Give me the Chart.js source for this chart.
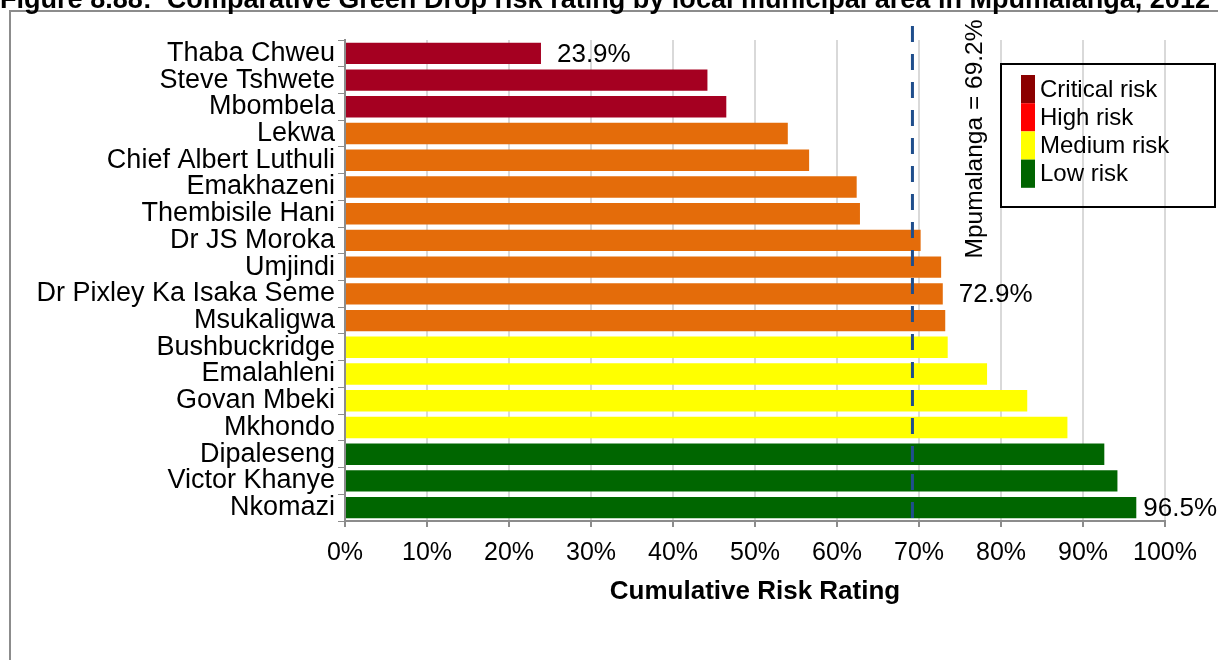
<!DOCTYPE html>
<html>
<head>
<meta charset="utf-8">
<script src="https://cdn.jsdelivr.net/npm/chart.js@4.4.0/dist/chart.umd.min.js"></script>
<style>
  html, body { margin: 0; padding: 0; background: #fff; }
  #riskChart { display: block; }
</style>
</head>
<body>
<canvas id="riskChart" width="1218" height="660"></canvas>
<script>
const municipalities = ['Thaba Chweu','Steve Tshwete','Mbombela','Lekwa','Chief Albert Luthuli','Emakhazeni',
  'Thembisile Hani','Dr JS Moroka','Umjindi','Dr Pixley Ka Isaka Seme','Msukaligwa','Bushbuckridge',
  'Emalahleni','Govan Mbeki','Mkhondo','Dipaleseng','Victor Khanye','Nkomazi'];
const riskRating = [23.9,44.2,46.5,54.0,56.6,62.4,62.8,70.2,72.7,72.9,73.2,73.5,78.3,83.2,88.1,92.6,94.2,96.5];
const riskClass = ['critical','critical','critical','high','high','high','high','high','high','high','high',
  'medium','medium','medium','medium','low','low','low'];
const labelledBars = ['Thaba Chweu','Dr Pixley Ka Isaka Seme','Nkomazi'];
const provincialRating = 69.2;
const provincialLabel = 'Mpumalanga = 69.2%';
const xTicks = [0,10,20,30,40,50,60,70,80,90,100];
const legendNames = ['Critical risk','High risk','Medium risk','Low risk'];
const titleText = 'Figure 8.88:  Comparative Green Drop risk rating by local municipal area in Mpumalanga, 2012';

const barColours = { critical: '#a50021', high: '#e46c0a', medium: '#ffff00', low: '#006600' };
const legendColours = ['#8b0000', '#ff0000', '#ffff00', '#006400'];
const FONT = '"Liberation Sans", Arial, sans-serif';

Chart.defaults.font.family = FONT;
Chart.defaults.color = '#000';

// frame, clipped title, legend box, reference line and value labels
const extras = {
  id: 'extras',
  beforeDraw(chart) {
    const ctx = chart.ctx;
    ctx.save();
    ctx.strokeStyle = '#8c8c8c';
    ctx.lineWidth = 2;
    ctx.strokeRect(10, 11, 1400, 1000);
    ctx.fillStyle = '#000';
    ctx.font = 'bold 24px ' + FONT;
    const w = ctx.measureText(titleText).width;
    const size = 24 * 1210 / w;
    ctx.font = 'bold ' + size.toFixed(2) + 'px ' + FONT;
    ctx.textBaseline = 'alphabetic';
    ctx.textAlign = 'left';
    ctx.fillText(titleText, 0, 8);
    ctx.restore();
  },
  afterDatasetsDraw(chart) {
    const ctx = chart.ctx;
    const x = chart.scales.x;
    const y = chart.scales.y;
    const area = chart.chartArea;
    ctx.save();
    // provincial average
    const px = x.getPixelForValue(provincialRating);
    ctx.strokeStyle = '#1f4e8c';
    ctx.lineWidth = 3;
    ctx.setLineDash([16, 12]);
    ctx.beginPath();
    ctx.moveTo(px, 26);
    ctx.lineTo(px, area.bottom - 2);
    ctx.stroke();
    ctx.setLineDash([]);

    ctx.fillStyle = '#000';
    ctx.font = '24.5px ' + FONT;
    ctx.translate(975, 139);
    ctx.rotate(-Math.PI / 2);
    ctx.textAlign = 'center';
    ctx.textBaseline = 'middle';
    ctx.fillText(provincialLabel, 0, 0);
    ctx.setTransform(1, 0, 0, 1, 0, 0);

    // value labels
    ctx.textAlign = 'left';
    ctx.textBaseline = 'middle';
    ctx.font = '26px ' + FONT;
    labelledBars.forEach(name => {
      const i = municipalities.indexOf(name);
      const txt = riskRating[i].toFixed(1) + '%';
      const bx = x.getPixelForValue(riskRating[i]);
      const by = y.getPixelForValue(i);
      const lx = Math.min(bx + 16, chart.width - ctx.measureText(txt).width - 1);
      ctx.fillText(txt, lx, by + 1);
    });

    // legend
    ctx.font = '24px ' + FONT;
    ctx.strokeStyle = '#000';
    ctx.lineWidth = 2;
    ctx.strokeRect(1001, 64, 214, 143);
    const rowH = 28.2;
    legendNames.forEach((name, i) => {
      const top = 75 + i * rowH;
      ctx.fillStyle = legendColours[i];
      ctx.fillRect(1021, top, 14, rowH);
      ctx.fillStyle = '#000';
      ctx.fillText(name, 1040, top + rowH / 2 + 1);
    });
    ctx.restore();
  }
};

new Chart(document.getElementById('riskChart'), {
  type: 'bar',
  data: {
    labels: municipalities,
    datasets: [{
      label: 'Cumulative Risk Rating',
      data: riskRating,
      backgroundColor: riskClass.map(c => barColours[c]),
      barPercentage: 0.8,
      categoryPercentage: 1.0
    }]
  },
  options: {
    indexAxis: 'y',
    responsive: false,
    animation: false,
    devicePixelRatio: 1,
    layout: { padding: { top: 40, right: 53, left: 0, bottom: 0 } },
    scales: {
      x: {
        min: 0,
        max: 100,
        afterBuildTicks: s => { s.ticks = xTicks.map(v => ({ value: v })); },
        afterFit: s => { s.height = 139; },
        ticks: {
          font: { size: 25 },
          color: '#000',
          padding: 11,
          maxRotation: 0,
          callback: v => v + '%'
        },
        grid: { color: '#d9d9d9', lineWidth: 2, tickColor: '#8c8c8c', tickLength: 6 },
        border: { color: '#8c8c8c', width: 2 },
        title: {
          display: true,
          text: 'Cumulative Risk Rating',
          font: { size: 26, weight: 'bold' },
          color: '#000',
          padding: { top: 0, bottom: 53 }
        }
      },
      y: {
        afterFit: s => { s.width = 345; },
        ticks: { font: { size: 27 }, color: '#000', padding: 3, autoSkip: false },
        grid: { drawOnChartArea: false, color: '#8c8c8c', tickLength: 7, offset: true },
        border: { color: '#8c8c8c', width: 2 }
      }
    },
    plugins: {
      legend: { display: false },
      tooltip: { enabled: false }
    }
  },
  plugins: [extras]
});
</script>
</body>
</html>
